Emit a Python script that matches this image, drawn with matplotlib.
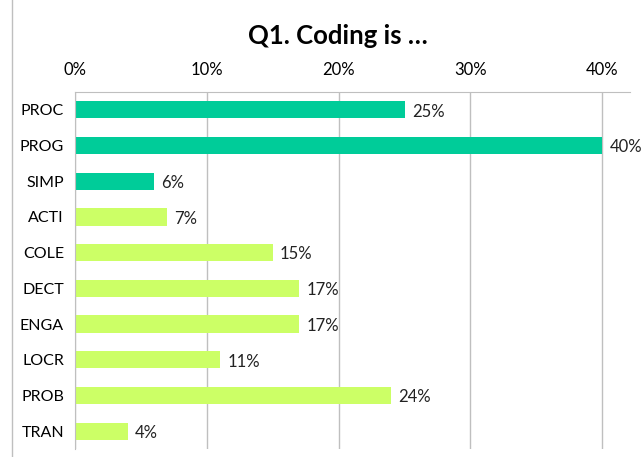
import matplotlib.pyplot as plt
from matplotlib.ticker import FuncFormatter

categories = ['PROC', 'PROG', 'SIMP', 'ACTI', 'COLE', 'DECT', 'ENGA', 'LOCR', 'PROB', 'TRAN']
values = [25, 40, 6, 7, 15, 17, 17, 11, 24, 4]
groups = ['a', 'a', 'a', 'b', 'b', 'b', 'b', 'b', 'b', 'b']
colors = {'a': '#00CC99', 'b': '#CCFF66'}

plt.rcParams['font.family'] = ['Lato', 'DejaVu Sans']

fig = plt.figure(figsize=(6.44, 4.57), dpi=100)
ax = fig.add_axes([75 / 644, 1 - 449 / 457, 555 / 644, 357 / 457])

ypos = range(len(categories))
ax.barh(ypos, values, height=0.48, color=[colors[g] for g in groups], zorder=2)
for y, v in zip(ypos, values):
    ax.text(v + 0.55, y + 0.05, f'{v}%', va='center', ha='left', fontsize=12, color='#222222')

ax.set_yticks(list(ypos))
ax.set_yticklabels(categories, fontsize=11.5)
ax.set_ylim(len(categories) - 0.5, -0.5)
ax.set_xlim(0, 42.1)
ax.set_xticks([0, 10, 20, 30, 40])
ax.xaxis.set_major_formatter(FuncFormatter(lambda x, p: f'{x:.0f}%'))
ax.xaxis.tick_top()
ax.tick_params(axis='x', labelsize=12, length=0, pad=10)
ax.tick_params(axis='y', length=0, pad=8)
ax.grid(axis='x', color='#BFBFBF', linewidth=1, zorder=0)
for s in ['right', 'bottom']:
    ax.spines[s].set_visible(False)
ax.spines['top'].set_color('#BFBFBF')
ax.spines['left'].set_color('#BFBFBF')

fig.text(338 / 644, 1 - 36 / 457, 'Q1. Coding is …', ha='center', va='center',
         fontsize=18.5, fontweight='bold')
fig.add_artist(plt.Line2D([12 / 644, 12 / 644], [0, 1], color='#BFBFBF', linewidth=1))

fig.savefig('out.png', dpi=100)
